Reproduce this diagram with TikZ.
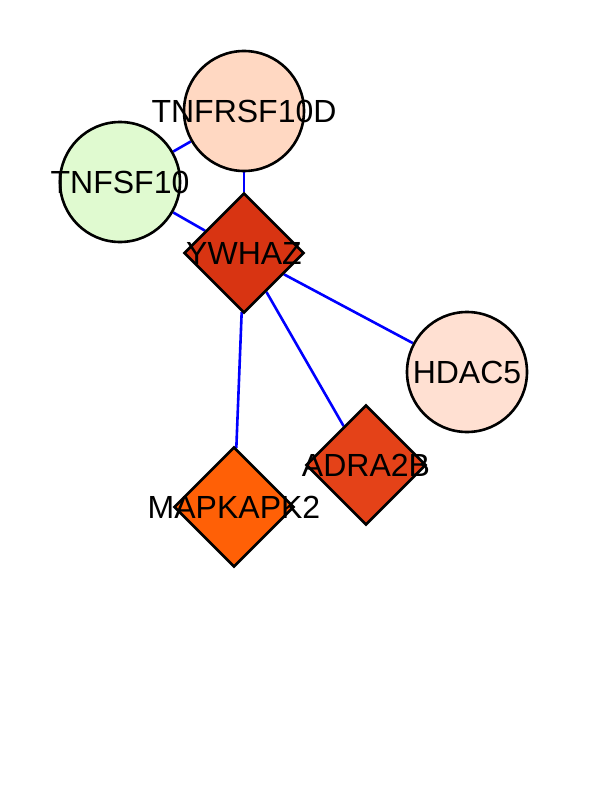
\documentclass[tikz,border=0pt]{standalone}
\usepackage{fontspec}
\setmainfont{Liberation Sans}
\usepackage{tikz}
\usetikzlibrary{shapes.geometric, backgrounds}
\definecolor{cpeach}{HTML}{FFD8C2}
\definecolor{cgreen}{HTML}{E0FAD0}
\definecolor{cred}{HTML}{D83412}
\definecolor{cpale}{HTML}{FFE0D2}
\definecolor{cdark}{HTML}{E44218}
\definecolor{corange}{HTML}{FF6006}
\tikzstyle{gnode} = [circle, draw, line width=2.6pt, minimum size=120pt, inner sep=0pt]
\tikzstyle{dnode} = [diamond, draw, line width=2.6pt, minimum size=120pt, inner sep=0pt]
\tikzstyle{line} = [draw, blue, line width=2.6pt]

\begin{document}
\begin{tikzpicture}[x=1pt, y=-1pt, every label/.style={font=\fontsize{32}{36}\selectfont, inner sep=0pt}]
			\useasboundingbox (0,0) rectangle (612,792);
			\node [gnode, fill=cpeach, label=center:{TNFRSF10D}] (tnfrsf) at (244, 111) {};
			\node [gnode, fill=cgreen, label=center:{TNFSF10}] (tnfsf) at (120, 182) {};
			\node [dnode, fill=cred, label=center:{YWHAZ}] (ywhaz) at (244, 253) {};
			\node [gnode, fill=cpale, label=center:{HDAC5}] (hdac) at (467, 372) {};
			\node [dnode, fill=cdark, label=center:{ADRA2B}] (adra) at (366, 465) {};
			\node [dnode, fill=corange, label=center:{MAPKAPK2}] (mapk) at (234, 507) {};

			\begin{scope}[on background layer]
			\path [line] (tnfsf) -- (tnfrsf);
			\path [line] (tnfrsf) -- (ywhaz);
			\path [line] (tnfsf) -- (ywhaz);
			\path [line] (ywhaz) -- (hdac);
			\path [line] (ywhaz) -- (adra);
			\path [line] (ywhaz) -- (mapk);
			\end{scope}
		\end{tikzpicture}
\end{document}
